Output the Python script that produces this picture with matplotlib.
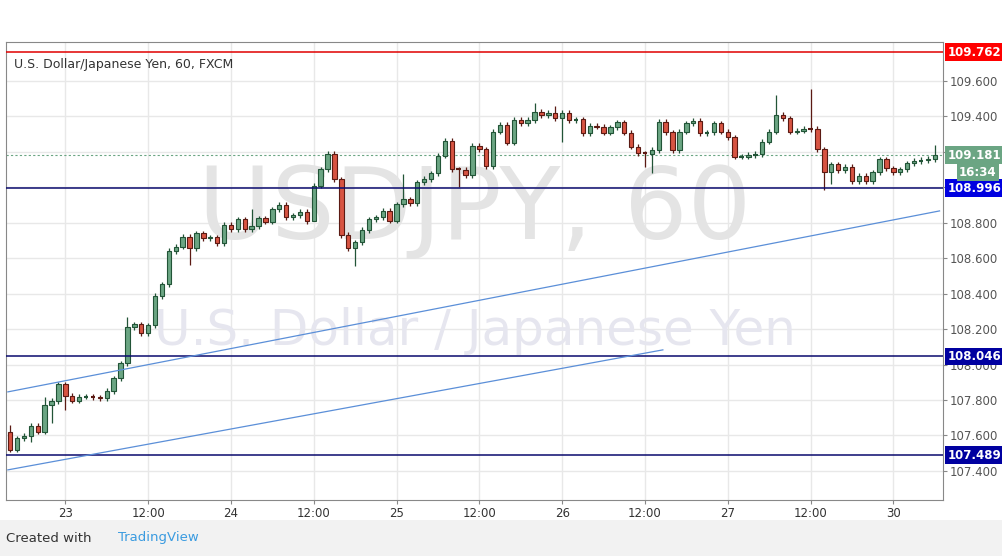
import numpy as np
import matplotlib.pyplot as plt

# USD/JPY hourly candles (open of first candle, then closes)
first_open = 107.622
closes = [107.519, 107.584, 107.597, 107.654, 107.622, 107.772, 107.795, 107.889, 107.825, 107.797,
          107.819, 107.819, 107.816, 107.810, 107.851, 107.923, 108.007, 108.210, 108.227, 108.177,
          108.222, 108.387, 108.453, 108.641, 108.665, 108.722, 108.656, 108.740, 108.712, 108.718,
          108.684, 108.788, 108.763, 108.820, 108.763, 108.782, 108.825, 108.806, 108.876, 108.900,
          108.831, 108.842, 108.861, 108.810, 109.009, 109.101, 109.188,
          109.045, 108.731, 108.656, 108.690, 108.759, 108.820, 108.831, 108.868, 108.812, 108.904,
          108.932, 108.910, 109.028, 109.047, 109.079, 109.179, 109.263, 109.102, 109.098, 109.068,
          109.235, 109.214, 109.120, 109.314, 109.352, 109.252, 109.380, 109.361, 109.380, 109.427,
          109.408, 109.421, 109.389, 109.421, 109.380, 109.383, 109.305, 109.348, 109.342, 109.308,
          109.338, 109.367, 109.308,
          109.230, 109.192, 109.188, 109.211, 109.371, 109.310, 109.211, 109.314, 109.361, 109.374,
          109.305, 109.310, 109.361, 109.314, 109.282, 109.173, 109.173, 109.183, 109.188, 109.258,
          109.314, 109.408, 109.389, 109.314, 109.320, 109.331, 109.329, 109.215, 109.085, 109.130,
          109.098, 109.117, 109.036, 109.066, 109.036, 109.085, 109.158, 109.107, 109.085, 109.102,
          109.136, 109.149, 109.154, 109.160, 109.181]

# notable wick extremes (candle index: price)
spike_highs = {0: 107.66, 5: 107.816, 17: 108.27, 35: 108.88, 57: 109.075, 76: 109.474,
               79: 109.46, 111: 109.521, 116: 109.553, 134: 109.24}
spike_lows = {3: 107.566, 6: 107.673, 8: 107.744, 26: 108.562, 44: 108.957, 50: 108.556,
              65: 109.0, 80: 109.258, 92: 109.113, 93: 109.083, 118: 108.985, 119: 109.02}

levels = [109.762, 108.996, 108.046, 107.489]
level_colors = ['#e00000', '#0a0a6e', '#0a0a6e', '#0a0a6e']
label_colors = ['#ff0000', '#0000e0', '#0000a0', '#0000a0']

trend_upper = ([-0.33, 134.7], [107.846, 108.867])
trend_lower = ([-0.33, 94.6], [107.406, 108.083])

tick_pos = [8, 20, 32, 44, 56, 68, 80, 92, 104, 116, 128]
tick_lab = ['23', '12:00', '24', '12:00', '25', '12:00', '26', '12:00', '27', '12:00', '30']
yticks = [107.4, 107.6, 107.8, 108.0, 108.2, 108.4, 108.6, 108.8, 109.0, 109.2, 109.4, 109.6]

opens = [first_open] + closes[:-1]
n = len(closes)

fig = plt.figure(figsize=(10.02, 5.56), dpi=100)
fig.patch.set_facecolor('white')
ax = fig.add_axes([6 / 1002, 56 / 556, 937 / 1002, 458 / 556])
ax.set_xlim(-0.6, 135.2)
ax.set_ylim(107.236, 109.820)

for xp in tick_pos:
    ax.axvline(xp, color='#e8e8e8', lw=1, zorder=0)
for yp in yticks:
    ax.axhline(yp, color='#e8e8e8', lw=1, zorder=0)

# watermark
ax.text(0.5, 0.63, 'USDJPY, 60', transform=ax.transAxes, fontsize=72, color='#e4e4e4',
        ha='center', va='center', zorder=0)
ax.text(0.5, 0.37, 'U.S. Dollar / Japanese Yen', transform=ax.transAxes, fontsize=36, color='#e6e6ef',
        ha='center', va='center', zorder=0)

for i in range(n):
    o, c = opens[i], closes[i]
    up = c >= o
    hi = spike_highs.get(i, max(o, c) + 0.015)
    lo = spike_lows.get(i, min(o, c) - 0.015)
    face = '#6ba583' if up else '#d75442'
    edge = '#225437' if up else '#5b1a13'
    ax.vlines(i, lo, hi, color=edge, lw=0.9, zorder=3)
    h = abs(c - o)
    if h < 0.006:
        ax.hlines(o, i - 0.32, i + 0.32, color=edge, lw=1.5, zorder=4)
    else:
        ax.add_patch(plt.Rectangle((i - 0.32, min(o, c)), 0.64, h, facecolor=face,
                                   edgecolor=edge, lw=0.8, zorder=4))

for lv, col in zip(levels, level_colors):
    ax.axhline(lv, color=col, lw=1.1, zorder=5)
ax.plot(*trend_upper, color='#5b8fd8', lw=0.9, zorder=5)
ax.plot(*trend_lower, color='#5b8fd8', lw=0.9, zorder=5)
ax.axhline(closes[-1], color='#6ba583', lw=0.8, ls=(0, (2, 2)), zorder=2)

ax.set_xticks(tick_pos)
ax.set_xticklabels(tick_lab, fontsize=8.5, color='#333333')
ax.yaxis.tick_right()
ax.set_yticks(yticks)
ax.set_yticklabels(['%.3f' % v for v in yticks], fontsize=8.5, color='#555555')
ax.tick_params(axis='both', length=3, pad=2, color='#888888')
for s in ax.spines.values():
    s.set_color('#888888')

# price labels on right axis
lab_kw = dict(transform=ax.get_yaxis_transform(), fontsize=8.5, color='white', fontweight='bold',
              va='center', ha='left', zorder=10, clip_on=False)
for lv, col in zip(levels, label_colors):
    ax.text(1.005, lv, '%.3f' % lv,
            bbox=dict(boxstyle='square,pad=0.2', facecolor=col, edgecolor='none'), **lab_kw)
ax.text(1.005, closes[-1], '%.3f' % closes[-1],
        bbox=dict(boxstyle='square,pad=0.2', facecolor='#6ba583', edgecolor='none'), **lab_kw)
ax.text(1.017, closes[-1] - 0.095, '16:34',
        bbox=dict(boxstyle='square,pad=0.2', facecolor='#6ba583', edgecolor='none'), **lab_kw)

ax.text(0.009, 0.965, 'U.S. Dollar/Japanese Yen, 60, FXCM', transform=ax.transAxes,
        fontsize=9, color='#333333', va='top')

# footer
fig.patches.append(plt.Rectangle((0, 0), 1, 36 / 556, transform=fig.transFigure,
                                 facecolor='#f2f2f2', edgecolor='none'))
fig.text(6 / 1002, 18 / 556, 'Created with', fontsize=9.5, color='#333333', va='center')
fig.text(118 / 1002, 18 / 556, 'TradingView', fontsize=9.5, color='#3a9be0', va='center')

fig.savefig('out.png', dpi=100)
